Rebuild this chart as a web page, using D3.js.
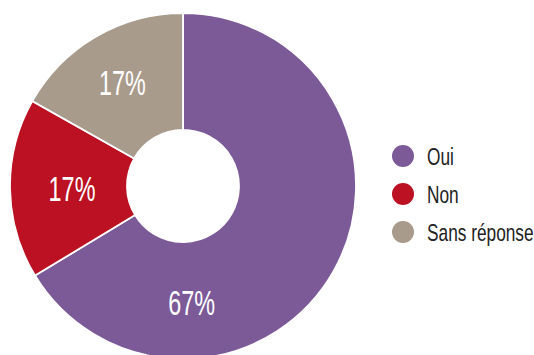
<!DOCTYPE html>
<html>
<head>
<meta charset="utf-8">
<script src="https://cdn.jsdelivr.net/npm/d3@7"></script>
<style>
  html, body { margin: 0; padding: 0; background: #fff; }
  text { font-family: "Liberation Sans Narrow", "Liberation Sans", sans-serif; }
</style>
</head>
<body>
<div class="panel"></div>
<script>
const categories = ["Oui", "Non", "Sans réponse"];
const values = [67, 17, 17];
const labels = ["67%", "17%", "17%"];
const colours = ["#7c5a98", "#bb1122", "#a99b8b"];

const width = 534;
const height = 355;
const cx = 183, cy = 186;
const outerRadius = 173;
const innerRadius = 56;

const svg = d3.select(".panel")
    .append("svg")
    .attr("width", width)
    .attr("height", height)
    .attr("viewBox", `0 0 ${width} ${height}`);

const data = categories.map((c, i) => ({ name: c, value: values[i], label: labels[i] }));

const pie = d3.pie()
    .value(d => d.value)
    .sort(null);

const arc = d3.arc()
    .innerRadius(innerRadius)
    .outerRadius(outerRadius);

const colour = d3.scaleOrdinal()
    .domain(categories)
    .range(colours);

const chart = svg.append("g")
    .attr("transform", `translate(${cx}, ${cy})`);

const slices = pie(data);

chart.selectAll("path")
    .data(slices)
    .enter()
    .append("path")
    .attr("d", arc)
    .attr("fill", d => colour(d.data.name))
    .attr("stroke", "#fff")
    .attr("stroke-width", 1.8);

// the big slice carries its label near the bottom, the others sit mid-slice
function labelPoint(d){
  const angle = d.index === 0 ? Math.PI * 0.976 : (d.startAngle + d.endAngle) / 2;
  const r = d.index === 0 ? 116 : (d.index === 1 ? 111 : 120);
  return d3.pointRadial(angle, r);
}

chart.selectAll(".slice-label")
    .data(slices)
    .enter()
    .append("text")
    .attr("class", "slice-label")
    .attr("transform", d => {
      const [x, y] = labelPoint(d);
      return `translate(${x}, ${y}) scale(0.65, 1)`;
    })
    .attr("text-anchor", "middle")
    .attr("dy", "0.36em")
    .attr("fill", "#fff")
    .attr("font-size", 36)
    .text(d => d.data.label);

const legend = svg.append("g")
    .attr("transform", "translate(403, 156)");

const items = legend.selectAll("g")
    .data(categories)
    .enter()
    .append("g")
    .attr("transform", (d, i) => `translate(0, ${i * 38})`);

items.append("circle")
    .attr("r", 11)
    .attr("fill", d => colour(d));

items.append("text")
    .attr("transform", "translate(24, 0) scale(0.72, 1)")
    .attr("dy", "0.36em")
    .attr("font-size", 24)
    .attr("fill", "#222")
    .text(d => d);
</script>
</body>
</html>
